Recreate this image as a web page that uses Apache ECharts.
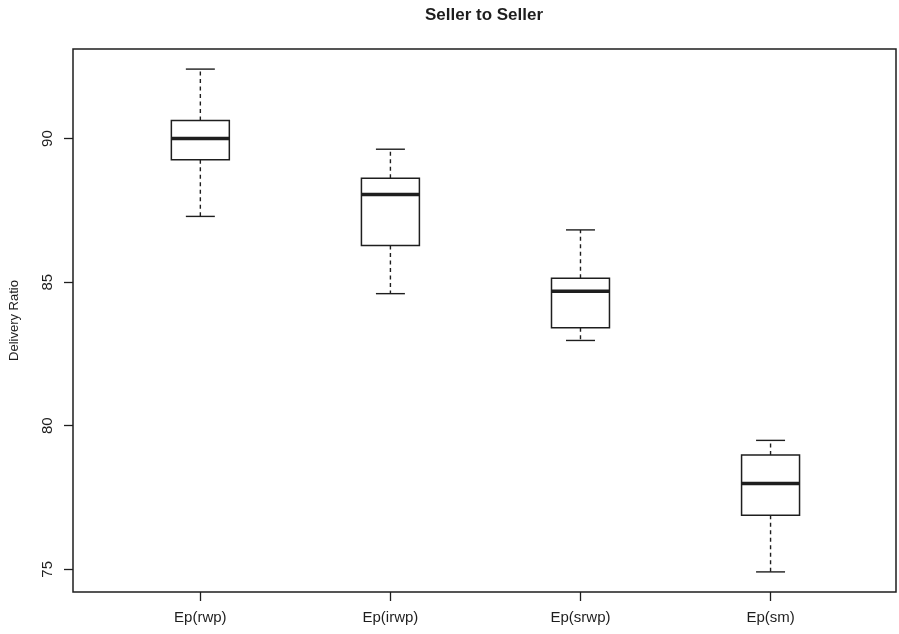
<!DOCTYPE html>
<html>
<head>
<meta charset="utf-8">
<script src="https://cdn.jsdelivr.net/npm/echarts@6/dist/echarts.min.js"></script>
<style>
html,body{margin:0;padding:0;background:#fff;}
#chart{width:899px;height:634px;}
</style>
</head>
<body>
<div id="chart"></div>
<script>
const title = 'Seller to Seller';
const yAxisName = 'Delivery Ratio';
const categories = ['Ep(rwp)', 'Ep(irwp)', 'Ep(srwp)', 'Ep(sm)'];
const whiskerLow = [87.29, 84.60, 82.97, 74.91];
const quartile1 = [89.26, 86.28, 83.41, 76.88];
const median = [90.00, 88.05, 84.68, 77.99];
const quartile3 = [90.63, 88.62, 85.14, 78.98];
const whiskerHigh = [92.42, 89.63, 86.82, 79.49];
const yTicks = [75, 80, 85, 90];

const positions = categories.map((c, i) => i + 1);
const data = categories.map((c, i) => [positions[i], whiskerLow[i], quartile1[i], median[i], quartile3[i], whiskerHigh[i]]);

// R-style 4% extension of the data range
const dMin = Math.min(...whiskerLow), dMax = Math.max(...whiskerHigh);
const ext = (dMax - dMin) * 0.04;

const FONT = '"Liberation Sans", Arial, Helvetica, sans-serif';
const INK = '#1e1e1e';

function renderItem(params, api) {
  const x = api.value(0);
  const pLow = api.coord([x, api.value(1)]);
  const pQ1 = api.coord([x, api.value(2)]);
  const pMed = api.coord([x, api.value(3)]);
  const pQ3 = api.coord([x, api.value(4)]);
  const pHigh = api.coord([x, api.value(5)]);
  const half = api.size([0.305, 0])[0] / 2;
  const cx = pMed[0];
  const lineStyle = { stroke: INK, lineWidth: 1.4, fill: null };
  const dashStyle = { stroke: INK, lineWidth: 1.4, lineDash: [4, 3.5] };
  return {
    type: 'group',
    children: [
      { type: 'line', shape: { x1: cx, y1: pQ3[1], x2: cx, y2: pHigh[1] }, style: dashStyle },
      { type: 'line', shape: { x1: cx, y1: pQ1[1], x2: cx, y2: pLow[1] }, style: dashStyle },
      { type: 'line', shape: { x1: cx - half / 2, y1: pHigh[1], x2: cx + half / 2, y2: pHigh[1] }, style: lineStyle },
      { type: 'line', shape: { x1: cx - half / 2, y1: pLow[1], x2: cx + half / 2, y2: pLow[1] }, style: lineStyle },
      { type: 'rect', shape: { x: cx - half, y: pQ3[1], width: half * 2, height: pQ1[1] - pQ3[1] }, style: { stroke: INK, lineWidth: 1.5, fill: '#fff' } },
      { type: 'line', shape: { x1: cx - half, y1: pMed[1], x2: cx + half, y2: pMed[1] }, style: { stroke: INK, lineWidth: 3.5 } }
    ]
  };
}

const chart = echarts.init(document.getElementById('chart'), null, { renderer: 'canvas' });
chart.setOption({
  backgroundColor: '#ffffff',
  animation: false,
  textStyle: { fontFamily: FONT },
  graphic: [{
    type: 'text', x: 484, y: 15,
    style: { text: title, font: 'bold 17px ' + FONT, fill: INK, textAlign: 'center', textVerticalAlign: 'middle' }
  }],
  grid: { left: 72, right: 3, top: 49, bottom: 42, show: true, borderColor: INK, borderWidth: 1.5, backgroundColor: 'transparent' },
  xAxis: {
    type: 'value', min: 0.33, max: 4.66,
    axisLine: { show: false },
    splitLine: { show: false },
    axisTick: { show: true, customValues: positions, length: 9, lineStyle: { color: INK, width: 1.3 } },
    axisLabel: { customValues: positions, formatter: v => categories[Math.round(v) - 1], fontSize: 15, color: INK, margin: 18, fontFamily: FONT }
  },
  yAxis: {
    type: 'value', min: +(dMin - ext).toFixed(3), max: +(dMax + ext).toFixed(3),
    name: yAxisName, nameLocation: 'middle', nameGap: 52, nameRotate: 90,
    nameTextStyle: { fontSize: 13, color: INK, fontFamily: FONT },
    axisLine: { show: false },
    splitLine: { show: false },
    axisTick: { show: true, customValues: yTicks, length: 9, lineStyle: { color: INK, width: 1.3 } },
    axisLabel: { customValues: yTicks, rotate: 90, fontSize: 15, color: INK, margin: 18, fontFamily: FONT }
  },
  series: [{
    type: 'custom',
    renderItem: renderItem,
    data: data,
    encode: { x: 0, y: [1, 2, 3, 4, 5] }
  }]
});
</script>
</body>
</html>
